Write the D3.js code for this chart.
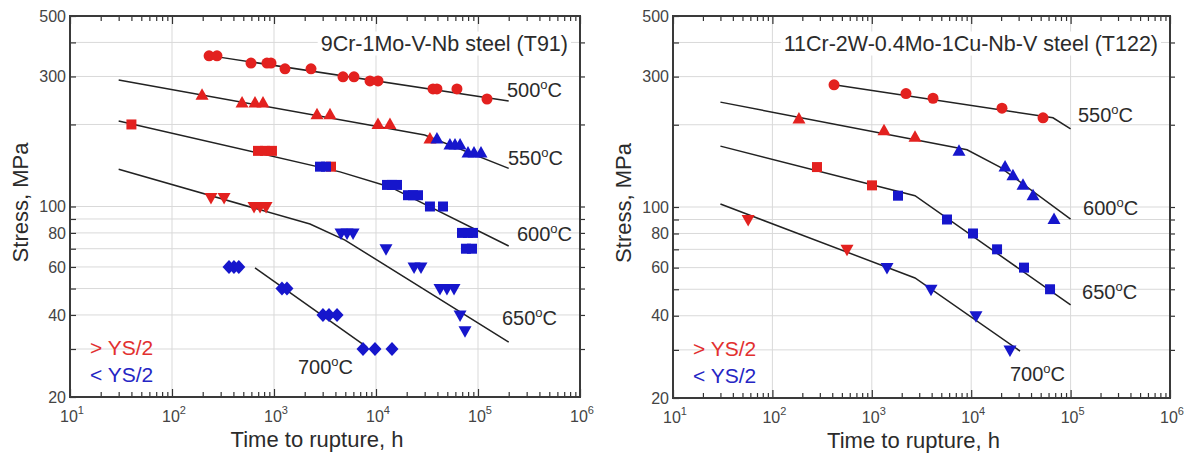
<!DOCTYPE html>
<html><head><meta charset="utf-8">
<script src="https://cdn.jsdelivr.net/npm/d3@7"></script>
<style>body{margin:0;background:#fff}svg{display:block}</style>
</head><body>
<svg id="c" width="1190" height="454"></svg>
<script>
// ---------- DATA (time to rupture h, stress MPa, r = > YS/2, b = < YS/2) ----------
const T91_500 = [[231,357,'r'],[276,357,'r'],[595,336,'r'],[853,336,'r'],[935,336,'r'],[1282,320,'r'],[2306,320,'r'],[4745,299,'r'],[6085,299,'r'],[8730,289,'r'],[10466,289,'r'],[36200,270,'r'],[39600,270,'r'],[62200,270,'r'],[122500,248,'r']];
const T91_550 = [[197,256,'r'],[486,240,'r'],[651,240,'r'],[780,240,'r'],[2640,217,'r'],[3540,217,'r'],[10460,200,'r'],[13700,200,'r'],[33800,177,'r'],[39600,177,'b'],[53100,168,'b'],[59500,168,'b'],[66700,168,'b'],[79800,157,'b'],[91400,157,'b'],[107000,157,'b']];
const T91_600 = [[40,200,'r'],[697,160,'r'],[816,160,'r'],[955,160,'r'],[3620,140,'r'],[2825,140,'b'],[3236,140,'b'],[12820,120,'b'],[14350,120,'b'],[16070,120,'b'],[20600,110,'b'],[23070,110,'b'],[25800,110,'b'],[33800,100,'b'],[45400,100,'b'],[69700,80,'b'],[79800,80,'b'],[89300,80,'b'],[76200,70,'b'],[87300,70,'b']];
const T91_650 = [[241,108,'r'],[324,108,'r'],[637,100,'r'],[730,100,'r'],[836,100,'r'],[4540,80,'b'],[5200,80,'b'],[5960,80,'b'],[12530,70,'b'],[23600,60,'b'],[27600,60,'b'],[42400,50,'b'],[49600,50,'b'],[58200,50,'b'],[66700,40,'b'],[74600,35,'b']];
const T91_700 = [[362,60,'b'],[405,60,'b'],[452,60,'b'],[1197,50,'b'],[1340,50,'b'],[3020,40,'b'],[3460,40,'b'],[4150,40,'b'],[7460,30,'b'],[9770,30,'b'],[14350,30,'b']];

const T91_500_fit = [[280,354],[2e5,244]];
const T91_550_fit = [[30,291],[3e4,183],[2e5,138]];
const T91_600_fit = [[30,206],[4440,134],[13700,118],[2e5,71.6]];
const T91_650_fit = [[30,137],[2254,86.2],[4966,75.3],[2e5,31.8]];
const T91_700_fit = [[651,59.5],[8160,30.5]];

const T122_550 = [[417,280,'r'],[2208,260,'r'],[4130,250,'r'],[20400,230,'r'],[52800,212,'r']];
const T122_600 = [[185,210,'r'],[1327,190,'r'],[2720,180,'r'],[7540,160,'b'],[21900,140,'b'],[26300,130,'b'],[33200,120,'b'],[41900,110,'b'],[68100,90,'b']];
const T122_650 = [[281,140,'r'],[1005,120,'r'],[1835,110,'b'],[5710,90,'b'],[10420,80,'b'],[18200,70,'b'],[33980,60,'b'],[62100,50,'b']];
const T122_700 = [[57,90,'r'],[563,70,'r'],[1422,60,'b'],[3940,50,'b'],[11170,40,'b'],[24550,30,'b']];

const T122_550_fit = [[417,280],[66500,212],[1e5,193]];
const T122_600_fit = [[30,242],[9080,162],[19500,140],[1e5,90.3]];
const T122_650_fit = [[30,167],[2720,110],[1e5,43.8]];
const T122_700_fit = [[30,102.5],[2720,55],[31000,29.7]];

const temps = ["500","550","600","650","700"];
const T91_labelAt = [[192300,267.5],[196800,150.6],[241000,79.2],[171800,39],[1718,25.8]];
const T122_labelAt = [[118600,217],[133400,99.1],[130300,48.8],[24550,24.5]];

const yTickLabels = [500,300,100,80,60,40,20];
const yGrid = [30,40,50,60,70,80,90,100,200,300,400];
const xExps = [1,2,3,4,5,6];
const titles = ["9Cr-1Mo-V-Nb steel (T91)","11Cr-2W-0.4Mo-1Cu-Nb-V steel (T122)"];
const legendTexts = ["> YS/2","< YS/2"];

// ---------- STYLE ----------
const RED = "#e3211f", BLUE = "#1616cc";
const TXT = "#2b2b2b";
const FONT = "'Liberation Sans', Arial, sans-serif";
const svg = d3.select("#c").style("font-family", FONT);

const shapes = {
  circle: "M5.5,0A5.5,5.5,0,1,1,-5.5,0A5.5,5.5,0,1,1,5.5,0Z",
  up: "M0,-7L6.5,4.5L-6.5,4.5Z",
  down: "M0,7L6.5,-4.5L-6.5,-4.5Z",
  square: "M-5,-5H5V5H-5Z",
  diamond: "M0,-7L6.5,0L0,7L-6.5,0Z"
};

function panel(o) {
  const x = d3.scaleLog().domain([10, 1e6]).range([o.x0, o.x1]);
  const y = d3.scaleLog().domain([20, 500]).range([o.y1, o.y0]);
  const g = svg.append("g");

  // grid
  g.append("g").selectAll("line").data(yGrid).join("line")
    .attr("x1", o.x0).attr("x2", o.x1).attr("y1", d => y(d)).attr("y2", d => y(d))
    .attr("stroke", "#d9d9d9").attr("stroke-width", 1);
  g.append("g").selectAll("line").data(xExps.slice(1, -1)).join("line")
    .attr("y1", o.y0).attr("y2", o.y1).attr("x1", d => x(Math.pow(10, d))).attr("x2", d => x(Math.pow(10, d)))
    .attr("stroke", "#d9d9d9").attr("stroke-width", 1);

  // title with white background
  const tt = g.append("text").attr("x", o.x1 - 12).attr("y", o.y0 + 27).attr("dy", "0.35em")
    .attr("text-anchor", "end").attr("font-size", 21.5).attr("fill", TXT).text(o.title);
  const bb = tt.node().getBBox();
  g.insert("rect", () => tt.node()).attr("x", bb.x - 3).attr("y", bb.y).attr("width", bb.width + 6)
    .attr("height", bb.height).attr("fill", "#fff");

  // axes ticks
  const minor = [];
  for (let e = 1; e < 6; e++) for (let m = 2; m <= 9; m++) minor.push(m * Math.pow(10, e));
  const major = xExps.map(e => Math.pow(10, e));
  const axStyle = sel => { sel.select(".domain").remove(); sel.selectAll("line").attr("stroke", "#333").attr("stroke-width", 1.2); };
  g.append("g").attr("transform", `translate(0,${o.y1})`)
    .call(d3.axisBottom(x).tickValues(minor).tickSize(-5).tickFormat(() => "")).call(axStyle);
  g.append("g").attr("transform", `translate(0,${o.y1})`)
    .call(d3.axisBottom(x).tickValues(major).tickSize(-8).tickFormat(() => "")).call(axStyle);
  g.append("g").attr("transform", `translate(0,${o.y0})`)
    .call(d3.axisTop(x).tickValues(minor).tickSize(-5).tickFormat(() => "")).call(axStyle);
  g.append("g").attr("transform", `translate(0,${o.y0})`)
    .call(d3.axisTop(x).tickValues(major).tickSize(-8).tickFormat(() => "")).call(axStyle);

  // y axis left
  const ya = g.append("g").attr("transform", `translate(${o.x0},0)`)
    .call(d3.axisLeft(y).tickValues(yGrid.concat([500, 20])).tickSize(-6).tickPadding(4)
      .tickFormat(d => yTickLabels.includes(d) ? d : ""));
  ya.call(axStyle);
  ya.selectAll("text").attr("font-size", 16).attr("fill", "#444").attr("font-family", FONT);
  g.append("g").attr("transform", `translate(${o.x1},0)`)
    .call(d3.axisRight(y).tickValues(yGrid).tickSize(5).tickFormat(() => "")).call(axStyle);

  // x tick labels with superscripts
  const xl = g.append("g").selectAll("text").data(xExps).join("text")
    .attr("x", d => x(Math.pow(10, d)) + 2).attr("y", o.y1 + 25)
    .attr("text-anchor", "middle").attr("font-size", 16).attr("fill", "#444");
  xl.append("tspan").text("10");
  xl.append("tspan").attr("font-size", 11).attr("dy", -8).text(d => d);

  // frame
  g.append("rect").attr("x", o.x0).attr("y", o.y0).attr("width", o.x1 - o.x0).attr("height", o.y1 - o.y0)
    .attr("fill", "none").attr("stroke", "#3a3a3a").attr("stroke-width", 2);

  // fit lines
  const line = d3.line().x(d => x(d[0])).y(d => y(d[1]));
  g.append("g").selectAll("path").data(o.fits).join("path")
    .attr("d", line).attr("fill", "none").attr("stroke", "#222").attr("stroke-width", 1.5);

  // markers: red first then blue on top
  o.series.forEach(s => {
    const pts = s.pts.filter(p => p[2] === 'r').concat(s.pts.filter(p => p[2] === 'b'));
    g.append("g").selectAll("path").data(pts).join("path")
      .attr("d", shapes[s.shape])
      .attr("transform", d => `translate(${x(d[0])},${y(d[1])})`)
      .attr("fill", d => d[2] === 'r' ? RED : BLUE);
  });

  // temperature labels
  const tl = g.append("g").selectAll("text").data(o.labels).join("text")
    .attr("x", d => x(d.at[0])).attr("y", d => y(d.at[1])).attr("dy", "0.35em")
    .attr("font-size", 20).attr("fill", TXT);
  tl.append("tspan").text(d => d.t);
  tl.append("tspan").attr("font-size", 13).attr("dy", -8).text("o");
  tl.append("tspan").attr("dy", 8).text("C");

  // legend
  g.append("g").selectAll("text").data(legendTexts).join("text")
    .attr("x", o.x0 + 20).attr("y", (d, i) => o.y1 - 49 + i * 27).attr("dy", "0.35em")
    .attr("font-size", 21).attr("fill", (d, i) => i === 0 ? "#e2302f" : "#2525c4").text(d => d);

  // axis titles
  g.append("text").attr("transform", `translate(${o.x0 - 42},${(o.y0 + o.y1) / 2 - 4}) rotate(-90)`)
    .attr("text-anchor", "middle").attr("font-size", 22).attr("fill", TXT).text("Stress, MPa");
  g.append("text").attr("x", (o.x0 + o.x1) / 2 - 8).attr("y", o.y1 + 50)
    .attr("text-anchor", "middle").attr("font-size", 22).attr("fill", TXT).text("Time to rupture, h");
}

panel({
  x0: 70, x1: 580, y0: 16, y1: 397, title: titles[0],
  fits: [T91_500_fit, T91_550_fit, T91_600_fit, T91_650_fit, T91_700_fit],
  series: [
    {shape: "circle", pts: T91_500}, {shape: "up", pts: T91_550}, {shape: "square", pts: T91_600},
    {shape: "down", pts: T91_650}, {shape: "diamond", pts: T91_700}
  ],
  labels: temps.map((t, i) => ({t: t, at: T91_labelAt[i]}))
});
panel({
  x0: 673, x1: 1170, y0: 16, y1: 398, title: titles[1],
  fits: [T122_550_fit, T122_600_fit, T122_650_fit, T122_700_fit],
  series: [
    {shape: "circle", pts: T122_550}, {shape: "up", pts: T122_600},
    {shape: "square", pts: T122_650}, {shape: "down", pts: T122_700}
  ],
  labels: temps.slice(1).map((t, i) => ({t: t, at: T122_labelAt[i]}))
});
</script>
</body></html>
